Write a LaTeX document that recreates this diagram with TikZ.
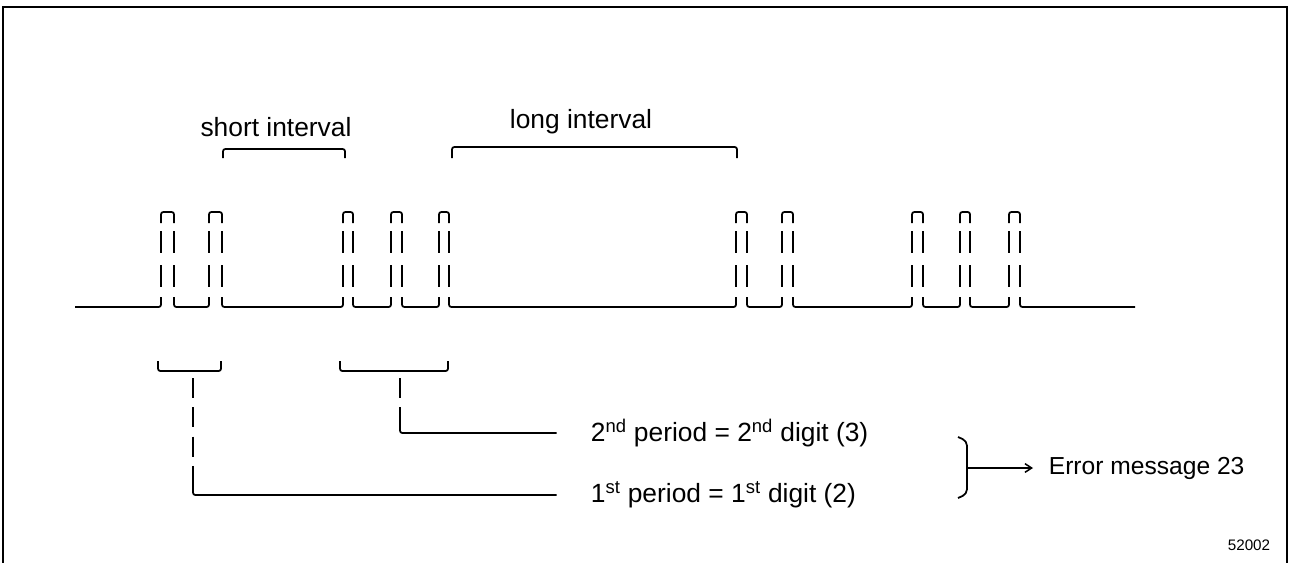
\documentclass[tikz,border=0pt]{standalone}
\usepackage{fontspec}
\setmainfont{Liberation Sans}
\usetikzlibrary{arrows.meta, positioning}

\begin{document}
\begin{tikzpicture}[
    x=0.03cm, y=-0.03cm,
    line width=1.5pt,
    every node/.style={
        font=\fontsize{21}{25}\selectfont,
        inner sep=0pt
    },
    tag/.style={font=\fontsize{22.5}{27}\selectfont},
    brk/.style={rounded corners=2pt},
    leader/.style={dash pattern=on 17pt off 8pt},
    arrow/.style={-{Straight Barb[length=2mm, width=2.6mm]}, line width=1.3pt}
]
\useasboundingbox (0,0) rectangle (1289,563);
\draw[line width=1.8pt] (3,563) -- (3,7) -- (1287,7) -- (1287,563);

% pulse train
\foreach \l/\r in {161/174, 209/222, 343/353, 391/402, 439/449,
                   736/747, 782/793, 912/923, 960/970, 1009/1020} {
    \draw[brk] (\l,223) -- (\l,212) -- (\r,212) -- (\r,223);
    \draw (\l,231) -- (\l,253) (\l,265) -- (\l,287)
          (\r,231) -- (\r,253) (\r,265) -- (\r,287);
}
\draw[brk] (75,307) -- (161,307) -- (161,297);
\foreach \a/\b in {174/209, 222/343, 353/391, 402/439, 449/736,
                   747/782, 793/912, 923/960, 970/1009} {
    \draw[brk] (\a,297) -- (\a,307) -- (\b,307) -- (\b,297);
}
\draw[brk] (1020,297) -- (1020,307) -- (1135,307);

% intervals
\draw[brk] (223,158) -- (223,149) -- (345,149) -- (345,158);
\node[tag] (short) at (276,127) {short interval};
\draw[brk] (452,158) -- (452,147) -- (737,147) -- (737,158);
\node[tag] (long) at (581,122) {long interval};

% periods
\draw[brk] (158,361) -- (158,371) -- (221,371) -- (221,361);
\draw[brk] (340,361) -- (340,371) -- (448,371) -- (448,361);

\node[tag, anchor=west] (second) at (590,433) {2\textsuperscript{nd} period = 2\textsuperscript{nd} digit (3)};
\node[tag, anchor=west] (first) at (590,495) {1\textsuperscript{st} period = 1\textsuperscript{st} digit (2)};

\coordinate (p1) at (193,378);
\coordinate (c1) at (193,495);
\coordinate (p2) at (400,378);
\coordinate (c2) at (400,433);
\draw[leader] (p1) -- ([yshift=0.3cm]c1);
\draw[brk] ([yshift=0.3cm]c1) -- (c1) -- ([xshift=-1cm]c1 -| first.west);
\draw[leader] (p2) -- ([yshift=0.3cm]c2);
\draw[brk] ([yshift=0.3cm]c2) -- (c2) -- ([xshift=-1cm]c2 -| second.west);

% error message
\draw[rounded corners=4pt] (958,437) -- (967,441) -- (967,494) -- (958,498);
\coordinate (fork) at (967,468);
\node[anchor=west] (error) at (1048,468) {Error message 23};
\draw[arrow] (fork) -- ([xshift=-0.45cm]error.west);

\node[font=\fontsize{13}{15}\selectfont] (fig) at (1249,545) {52002};
\end{tikzpicture}
\end{document}
